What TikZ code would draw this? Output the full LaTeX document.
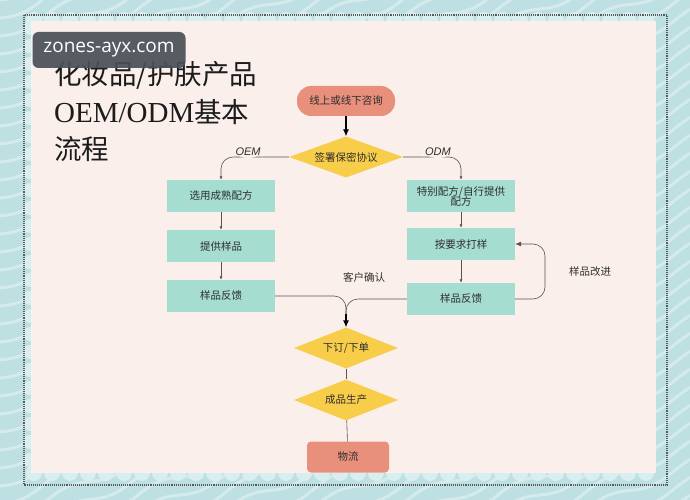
\documentclass[tikz,border=0pt]{standalone}
\usepackage{fontspec}
\setmainfont{Liberation Sans}
\newfontfamily\cjk{Noto Sans CJK SC}
\newfontfamily\titleserif{Liberation Serif}
\newfontfamily\markfont{Open Sans}
\usetikzlibrary{arrows.meta, shapes.geometric}
\definecolor{paneltint}{HTML}{FBEFEC}
\definecolor{seablue}{HTML}{BEE0E3}
\definecolor{foam}{HTML}{D9EEEF}
\definecolor{boxteal}{HTML}{A5DDD0}
\definecolor{salmon}{HTML}{E8907B}
\definecolor{gold}{HTML}{F8CD4A}
\definecolor{inkgray}{HTML}{2E2E2E}
\definecolor{titleink}{HTML}{1C1C1C}
\definecolor{linegray}{HTML}{555555}
\definecolor{markgray}{HTML}{4B5058}

\tikzset{
  stepbox/.style={rectangle, fill=boxteal, minimum width=108pt, minimum height=32pt,
    inner sep=1pt, text=inkgray, align=center, font=\cjk\fontsize{10.5}{12}\selectfont},
  endbox/.style={rectangle, fill=salmon, inner sep=1pt, text=inkgray,
    font=\cjk\fontsize{10.5}{12}\selectfont},
  decision/.style={diamond, aspect=2.8, fill=gold, inner sep=0pt, minimum width=104pt,
    minimum height=41pt, text=inkgray, font=\cjk\fontsize{10.5}{12}\selectfont},
  branchtag/.style={font=\itshape\fontsize{11}{12}\selectfont, text=inkgray,
    fill=paneltint, inner sep=2pt, yshift=5pt},
  note/.style={font=\cjk\fontsize{10.5}{12}\selectfont, text=inkgray},
  titletext/.style={anchor=base west, inner sep=0pt, text=titleink,
    font=\cjk\fontsize{27.5}{30}\selectfont},
  link/.style={draw=linegray, line width=0.6pt, -{Latex[length=3.5pt,width=3pt]}},
  plainlink/.style={draw=linegray, line width=0.6pt},
  mainarrow/.style={draw=black, line width=1.1pt, -{Latex[length=7pt,width=6pt]}},
}

\begin{document}
\begin{tikzpicture}[x=1pt, y=-1pt]

  \useasboundingbox (0,0) rectangle (690,500);

  % ===== BACKGROUND =====
  \fill[seablue] (0,0) rectangle (690,500);
  \begin{scope}
    \clip (0,0) rectangle (690,500);
    \foreach \k in {0,18,...,840}
      \draw[white, opacity=0.35, line width=3pt]
        plot[domain=0:690, samples=60, smooth] (\x, {\k - 0.45*\x + 5*sin(4*\x)});
  \end{scope}
  % cloud edge round the panel
  \foreach \sx in {34,52,...,656} {
    \fill[foam] (\sx,20) circle (8pt);
    \fill[foam] (\sx,473) circle (8pt);
  }
  \foreach \sy in {28,46,...,466}
    \fill[foam] (30,\sy) circle (7pt);
  \fill[paneltint] (31,21) rectangle (656,473);
  \draw[densely dotted, line width=1.1pt, black!65] (24,15) rectangle (667,485);

  % ===== TITLE =====
  \node[titletext] (title1) at (54,85) {化妆品/护肤产品};
  \node[titletext] (title2) at (54,122) {{\titleserif\fontsize{29}{30}\selectfont OEM/ODM}基本};
  \node[titletext] (title3) at (54,159) {流程};
  \node[fill=markgray, fill opacity=0.93, text opacity=1, rounded corners=6pt,
        minimum width=153pt, minimum height=36pt, text=white,
        font=\markfont\fontsize{19}{20}\selectfont] (mark) at (109,50) {zones-ayx.com};

  % ===== MAIN COLUMN =====
  \node[endbox, rounded corners=14pt, minimum width=98pt, minimum height=30pt]
    (consult) at (346,101) {线上或线下咨询};
  \node[decision, minimum width=114pt] (sign) at (346,157) {签署保密协议};

  % ===== OEM COLUMN =====
  \node[stepbox] (oem1) at (221,196) {选用成熟配方};
  \node[stepbox] (oem2) at (221,246) {提供样品};
  \node[stepbox] (fb1)  at (221,296) {样品反馈};

  % ===== ODM COLUMN =====
  \node[stepbox] (odm1)    at (461,196) {特别配方/自行提供\\[-2pt]配方};
  \node[stepbox] (sample2) at (461,244) {按要求打样};
  \node[stepbox] (fb2)     at (461,299) {样品反馈};
  \coordinate (loopx) at (545,272);
  \node[note] (improve) at (590,272) {样品改进};

  % ===== ORDER TO DELIVERY =====
  \node[note] (confirm) at (364,277) {客户确认};
  \coordinate (merge) at (346,314);
  \node[decision] (order)   at (346,348) {下订/下单};
  \node[decision] (produce) at (346,400) {成品生产};
  \node[endbox, rounded corners=4pt, minimum width=82pt, minimum height=31pt]
    (ship) at (348,457) {物流};

  % ===== CONNECTORS =====
  \draw[mainarrow] (consult) -- (sign);
  \draw[link, rounded corners=12pt] (sign.west) -| node[branchtag, pos=0.3] {OEM} (oem1.north);
  \draw[link, rounded corners=12pt] (sign.east) -| node[branchtag, pos=0.3] {ODM} (odm1.north);
  \draw[link] (oem1) -- (oem2);
  \draw[link] (oem2) -- (fb1);
  \draw[link] (odm1) -- (sample2);
  \draw[link] (sample2) -- (fb2);
  \draw[plainlink, rounded corners=12pt, -{Latex[length=6pt,width=5pt]}]
    (fb2.east) -| (loopx) |- (sample2.east);
  \draw[plainlink, rounded corners=12pt] (fb1.east) -| (merge);
  \draw[plainlink, rounded corners=12pt] (fb2.west) -| (merge);
  \draw[mainarrow] (merge) -- (order.north);
  \draw[plainlink] (order) -- (produce);
  \draw[plainlink] (produce) -- (ship);

\end{tikzpicture}
\end{document}
